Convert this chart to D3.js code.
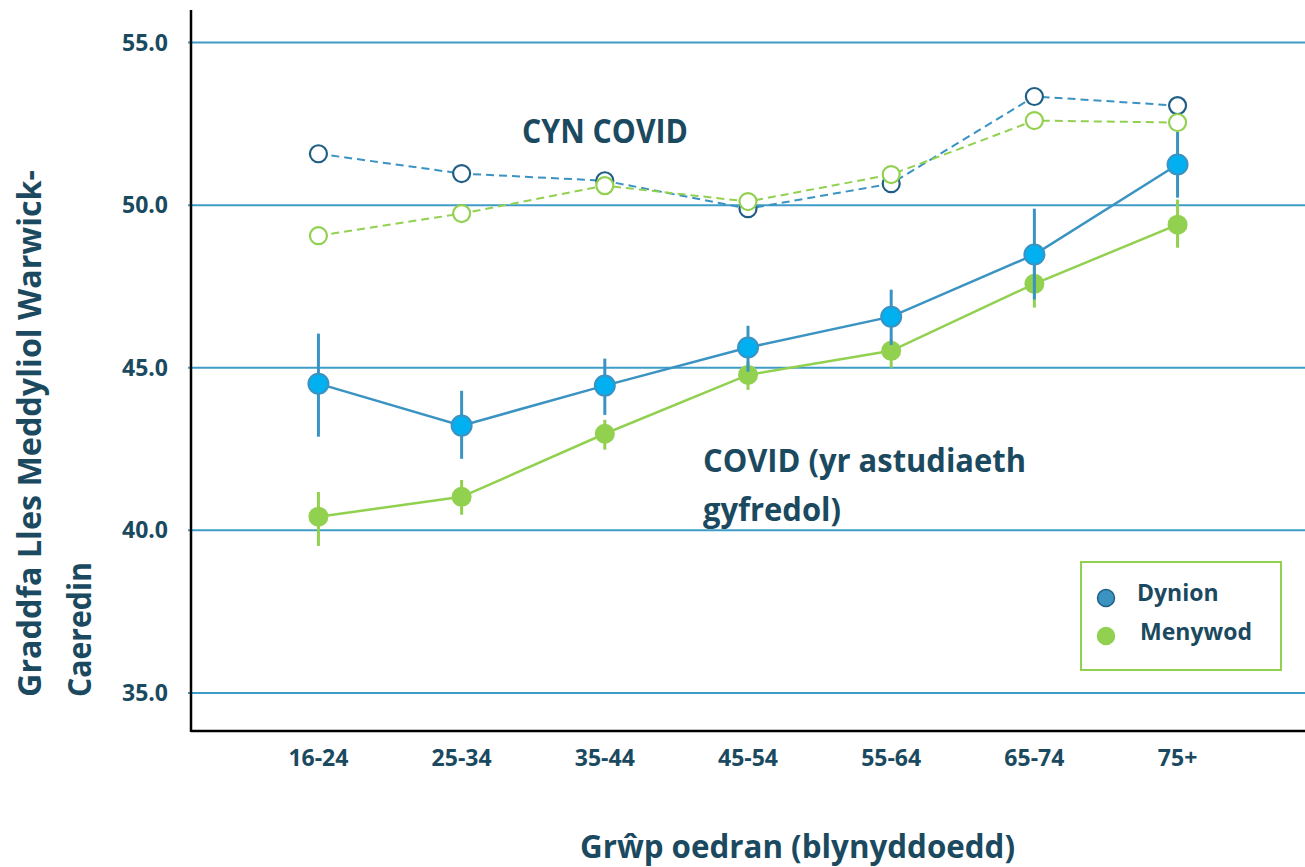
<!DOCTYPE html>
<html>
<head>
<meta charset="utf-8">
<script src="https://cdn.jsdelivr.net/npm/d3@7"></script>
<style>
  html, body { margin: 0; padding: 0; background: #fff; }
  svg { display: block; }
  text { font-family: "Open Sans", "Noto Sans", sans-serif; font-weight: 700; fill: #1b4a60; }
</style>
</head>
<body>
<svg id="chart" width="1305" height="867"></svg>
<script>
// ---- Data ----
const categories = ["16-24", "25-34", "35-44", "45-54", "55-64", "65-74", "75+"];
const yTicks = [35, 40, 45, 50, 55];

// Pre-COVID (CYN COVID)
const preMen   = [51.58, 50.97, 50.75, 49.89, 50.66, 53.34, 53.06];
const preWomen = [49.06, 49.74, 50.60, 50.11, 50.94, 52.60, 52.54];

// COVID (current study) with error bar bounds
const covMen      = [44.51, 43.22, 44.45, 45.62, 46.57, 48.48, 51.25];
const covMenLow   = [42.88, 42.20, 43.55, 44.88, 45.70, 47.10, 50.23];
const covMenHigh  = [46.05, 44.29, 45.28, 46.29, 47.40, 49.89, 52.26];
const covWomen     = [40.42, 41.03, 42.97, 44.78, 45.52, 47.58, 49.40];
const covWomenLow  = [39.52, 40.48, 42.48, 44.32, 45.00, 46.85, 48.69];
const covWomenHigh = [41.18, 41.55, 43.40, 45.18, 45.88, 48.10, 50.17];

const legendLabels = ["Dynion", "Menywod"];

// ---- Styles ----
const gridColor = "#3f9cc6";
const blueLine = "#3a93c2";
const blueFill = "#00b0f0";
const blueDark = "#1f5f85";
const green = "#92d050";

const svg = d3.select("#chart");
const pLeft = 191, pRight = 1305, pTop = 10, pBottom = 731;

const x = d3.scalePoint().domain(categories).range([pLeft, pRight]).padding(0.89);
const y = d3.scaleLinear().domain([33.83, 56]).range([pBottom, pTop]);

// gridlines
svg.append("g").selectAll("line").data(yTicks).join("line")
  .attr("x1", pLeft - 3).attr("x2", pRight)
  .attr("y1", d => y(d)).attr("y2", d => y(d))
  .attr("stroke", gridColor).attr("stroke-width", 2);

// y tick labels
svg.append("g").selectAll("text").data(yTicks).join("text")
  .attr("x", 168).attr("y", d => y(d))
  .attr("dy", "0.35em").attr("text-anchor", "end")
  .attr("font-size", 23)
  .text(d => d3.format(".1f")(d));

// x tick labels
svg.append("g").selectAll("text").data(categories).join("text")
  .attr("x", d => x(d)).attr("y", 758)
  .attr("dy", "0.35em").attr("text-anchor", "middle")
  .attr("font-size", 23)
  .text(d => d);

// axes lines
svg.append("line").attr("x1", pLeft).attr("x2", pLeft).attr("y1", pTop).attr("y2", pBottom + 1)
  .attr("stroke", "#000").attr("stroke-width", 2.5);
svg.append("line").attr("x1", pLeft).attr("x2", pRight).attr("y1", pBottom).attr("y2", pBottom)
  .attr("stroke", "#000").attr("stroke-width", 2.5);

const line = d3.line().x((d, i) => x(categories[i])).y(d => y(d));

function covSeries(vals, lo, hi, lineColor, fill, stroke) {
  const g = svg.append("g");
  g.append("path").datum(vals).attr("d", line)
    .attr("fill", "none").attr("stroke", lineColor).attr("stroke-width", 2.5);
  g.selectAll("line.err").data(vals).join("line").attr("class", "err")
    .attr("x1", (d, i) => x(categories[i])).attr("x2", (d, i) => x(categories[i]))
    .attr("y1", (d, i) => y(lo[i])).attr("y2", (d, i) => y(hi[i]))
    .attr("stroke", lineColor).attr("stroke-width", 3);
  g.selectAll("circle").data(vals).join("circle")
    .attr("cx", (d, i) => x(categories[i])).attr("cy", d => y(d))
    .attr("r", 10).attr("fill", fill)
    .attr("stroke", stroke).attr("stroke-width", stroke === "none" ? 0 : 2);
}
covSeries(covWomen, covWomenLow, covWomenHigh, green, green, "none");
covSeries(covMen, covMenLow, covMenHigh, blueLine, blueFill, blueLine);

function preSeries(vals, lineColor, circleColor) {
  const g = svg.append("g");
  g.append("path").datum(vals).attr("d", line)
    .attr("fill", "none").attr("stroke", lineColor).attr("stroke-width", 2)
    .attr("stroke-dasharray", "8,5");
  g.selectAll("circle").data(vals).join("circle")
    .attr("cx", (d, i) => x(categories[i])).attr("cy", d => y(d))
    .attr("r", 8.5).attr("fill", "#fff")
    .attr("stroke", circleColor).attr("stroke-width", 2.2);
}
preSeries(preMen, blueLine, blueDark);
preSeries(preWomen, green, green);

// annotations
function fitText(sel, len) {
  return sel.attr("textLength", len).attr("lengthAdjust", "spacingAndGlyphs");
}
fitText(svg.append("text").attr("x", 522).attr("y", 143).attr("font-size", 34).text("CYN COVID"), 166);
fitText(svg.append("text").attr("x", 703).attr("y", 472).attr("font-size", 33).text("COVID (yr astudiaeth"), 323);
fitText(svg.append("text").attr("x", 703).attr("y", 521).attr("font-size", 33).text("gyfredol)"), 138);

// axis titles
fitText(svg.append("text").attr("x", 580).attr("y", 858)
  .attr("font-size", 33).text("Grŵp oedran (blynyddoedd)"), 435);
fitText(svg.append("text").attr("transform", "translate(41,697) rotate(-90)")
  .attr("font-size", 32).text("Graddfa Lles Meddyliol Warwick-"), 527);
fitText(svg.append("text").attr("transform", "translate(91,697) rotate(-90)")
  .attr("font-size", 32).text("Caeredin"), 135);

// legend
const lg = svg.append("g");
lg.append("rect").attr("x", 1081).attr("y", 562).attr("width", 200).attr("height", 108)
  .attr("fill", "#fff").attr("stroke", green).attr("stroke-width", 2);
const legendColors = [{fill: "#3a93c0", stroke: blueDark}, {fill: green, stroke: green}];
lg.selectAll("circle").data(legendLabels).join("circle")
  .attr("cx", 1106).attr("cy", (d, i) => 598 + i * 38)
  .attr("r", 8.5)
  .attr("fill", (d, i) => legendColors[i].fill)
  .attr("stroke", (d, i) => legendColors[i].stroke).attr("stroke-width", 1.5);
lg.selectAll("text").data(legendLabels).join("text")
  .attr("x", (d, i) => 1137 + i * 3).attr("y", (d, i) => 593 + i * 39)
  .attr("dy", "0.35em").attr("font-size", 23)
  .text(d => d);
</script>
</body>
</html>
